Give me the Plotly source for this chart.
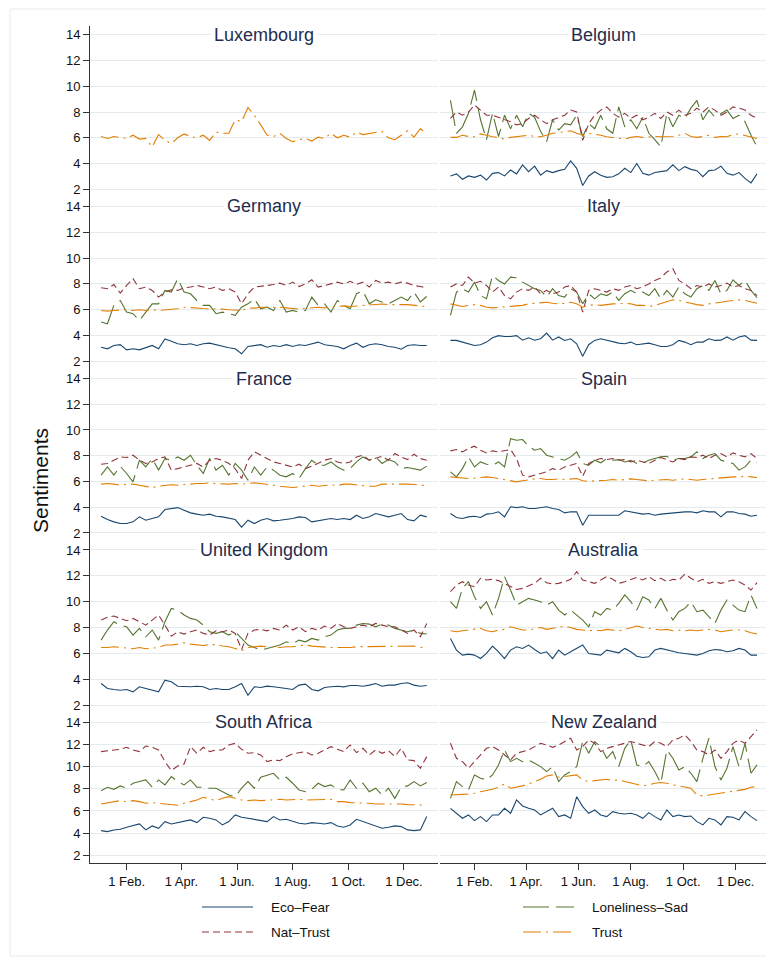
import pandas as pd
import plotly.graph_objects as go

# the page body has an 8px margin, so the figure is drawn 8px in from the window corner
OFF = 8
W, H = 774 - OFF, 959 - OFF

# one reading per week, first week starting 4 Jan 2020
week_start = '2020-01-04'
n_weeks = 52

countries = ['Luxembourg', 'Belgium', 'Germany', 'Italy', 'France', 'Spain',
             'United Kingdom', 'Australia', 'South Africa', 'New Zealand']
series_names = ['Eco–Fear', 'Loneliness–Sad', 'Nat–Trust', 'Trust']
month_ticks = ['2020-02-01', '2020-04-01', '2020-06-01', '2020-08-01', '2020-10-01', '2020-12-01']
month_labels = ['1 Feb.', '1 Apr.', '1 Jun.', '1 Aug.', '1 Oct.', '1 Dec.']
y_ticks = [2, 4, 6, 8, 10, 12, 14]

lux_trust = [6.1, 5.95, 6.1, 6.05, 5.95, 6.2, 5.9, 5.95, 5.3, 6.25,
             5.8, 5.55, 6.0, 6.3, 6.1, 6.0, 6.2, 5.8, 6.45, 6.35,
             6.35, 7.4, 7.25, 8.35, 7.75, 7.0, 6.2, 6.1, 6.35, 5.95,
             5.7, 5.85, 5.95, 5.75, 6.05, 5.95, 6.35, 6.0, 6.2, 6.05,
             6.45, 6.25, 6.35, 6.4, 6.5, 6.0, 5.85, 6.2, 6.55, 6.05,
             6.7, 6.3]

bel_eco = [3.04, 3.2, 2.78, 3.04, 2.93, 3.1, 2.72, 3.24, 3.3, 3.04,
           3.5, 3.2, 3.9, 3.37, 3.8, 3.1, 3.45, 3.3, 3.45, 3.55,
           4.2, 3.63, 2.3, 3.04, 3.37, 3.1, 2.93, 2.98, 3.2, 3.63,
           3.3, 4.0, 3.24, 3.1, 3.3, 3.37, 3.45, 3.9, 3.45, 3.76,
           3.55, 3.45, 2.98, 3.45, 3.5, 3.8, 3.24, 3.1, 3.3, 2.85,
           2.5, 3.2]
bel_lonely = [8.9, 6.35, 6.85, 7.9, 9.7, 7.4, 5.85, 7.9, 6.1, 7.75,
              6.7, 7.75, 6.85, 7.9, 7.6, 6.5, 5.7, 7.4, 6.6, 7.1,
              7.0, 7.75, 6.1, 7.1, 6.7, 7.75, 6.7, 6.35, 8.4, 6.85,
              7.4, 6.7, 7.6, 6.35, 5.85, 5.3, 7.9, 6.85, 7.75, 7.5,
              8.3, 8.9, 7.4, 8.15, 7.6, 7.9, 8.15, 7.5, 7.75, 7.25,
              6.2, 5.3]
bel_nat = [7.5, 8.0, 7.75, 8.0, 8.55, 8.15, 7.75, 7.75, 7.6, 7.4,
           7.25, 7.0, 7.1, 7.5, 7.75, 7.4, 7.1, 7.4, 7.6, 7.75,
           8.15, 8.0, 5.8, 7.1, 7.75, 8.15, 8.4, 7.9, 7.6, 7.9,
           7.5, 7.75, 7.4, 7.6, 7.9, 7.5, 8.0, 7.75, 8.15, 7.75,
           7.9, 8.3, 8.0, 8.4, 8.15, 7.75, 8.0, 8.4, 8.3, 8.15,
           7.75, 7.5]
bel_trust = [6.03, 6.03, 6.2, 6.1, 6.08, 6.3, 6.2, 6.08, 6.03, 5.9,
             6.03, 6.08, 6.1, 6.2, 6.1, 6.08, 6.2, 6.35, 6.4, 6.45,
             6.55, 6.35, 6.2, 6.35, 6.3, 6.2, 6.08, 6.03, 5.95, 5.9,
             6.03, 6.1, 6.03, 6.08, 6.1, 6.08, 6.08, 6.1, 6.2, 6.35,
             6.1, 6.03, 6.1, 6.2, 6.03, 6.1, 6.08, 6.25, 6.3, 6.2,
             6.08, 5.95]

ger_eco = [3.1, 2.98, 3.24, 3.3, 2.9, 2.98, 2.9, 3.06, 3.24, 2.98,
           3.75, 3.57, 3.37, 3.3, 3.37, 3.24, 3.37, 3.42, 3.3, 3.16,
           3.06, 2.98, 2.6, 3.16, 3.24, 3.3, 3.1, 3.24, 3.16, 3.3,
           3.16, 3.3, 3.24, 3.37, 3.5, 3.3, 3.24, 3.16, 2.98, 3.24,
           3.42, 3.1, 3.3, 3.37, 3.3, 3.16, 3.1, 2.95, 3.24, 3.3,
           3.24, 3.24]
ger_lonely = [5.05, 4.92, 6.34, 6.72, 5.82, 5.7, 5.17, 5.82, 6.46, 6.46,
              7.5, 7.37, 8.4, 7.37, 7.24, 6.72, 6.34, 6.34, 5.7, 5.82,
              5.7, 5.57, 6.2, 6.46, 6.85, 6.08, 6.2, 5.95, 6.72, 5.82,
              5.95, 5.82, 5.95, 6.98, 6.34, 6.46, 5.82, 6.72, 6.34, 6.08,
              7.24, 7.45, 6.46, 6.77, 6.6, 6.46, 6.72, 6.98, 6.72, 7.37,
              6.6, 7.03]
ger_nat = [7.7, 7.63, 7.96, 7.29, 7.88, 8.4, 7.63, 7.76, 7.5, 6.98,
           7.37, 7.55, 7.5, 7.7, 7.76, 7.88, 7.76, 7.63, 7.76, 7.5,
           7.63, 7.37, 6.47, 7.24, 7.76, 7.8, 7.88, 7.96, 8.06, 7.88,
           8.14, 7.8, 8.0, 8.32, 7.76, 7.88, 8.0, 8.14, 8.0, 8.2,
           7.96, 8.14, 7.76, 8.27, 8.06, 8.14, 8.0, 8.14, 8.06, 7.88,
           7.8, 7.7]
ger_trust = [5.95, 5.9, 5.95, 6.0, 6.0, 5.95, 6.0, 5.95, 6.0, 5.95,
             6.0, 6.05, 6.08, 6.2, 6.15, 6.15, 6.1, 6.08, 6.08, 6.05,
             6.0, 6.0, 5.95, 6.15, 6.13, 6.2, 6.2, 6.25, 6.2, 6.15,
             6.08, 6.05, 6.1, 6.15, 6.2, 6.15, 6.2, 6.25, 6.3, 6.25,
             6.3, 6.32, 6.35, 6.4, 6.45, 6.4, 6.38, 6.4, 6.4, 6.35,
             6.25, 6.25]

ita_eco = [3.63, 3.63, 3.5, 3.37, 3.24, 3.3, 3.5, 3.83, 4.0, 3.93,
           3.93, 4.0, 3.65, 3.83, 3.65, 3.76, 4.2, 3.65, 3.9, 3.63,
           3.76, 3.37, 2.4, 3.3, 3.63, 3.76, 3.65, 3.5, 3.42, 3.37,
           3.5, 3.3, 3.37, 3.42, 3.3, 3.16, 3.16, 3.3, 3.63, 3.5,
           3.3, 3.5, 3.5, 3.76, 3.63, 3.65, 3.9, 3.65, 3.9, 4.0,
           3.65, 3.63]
ita_lonely = [5.56, 7.37, 7.63, 7.37, 8.14, 7.1, 6.85, 8.66, 8.27, 8.0,
              8.53, 8.47, 8.14, 7.88, 7.63, 7.5, 6.98, 7.63, 7.1, 6.98,
              7.63, 7.37, 6.46, 7.24, 6.85, 7.24, 7.1, 7.37, 6.72, 7.24,
              7.5, 7.24, 7.37, 7.1, 7.63, 6.85, 7.5, 6.98, 7.76, 7.24,
              6.98, 7.63, 7.88, 7.5, 8.27, 7.24, 7.5, 8.32, 7.88, 8.27,
              7.5, 6.93]
ita_nat = [7.76, 8.0, 7.88, 8.53, 8.06, 8.2, 7.88, 7.37, 7.76, 7.1,
           6.85, 7.37, 7.63, 7.5, 7.76, 7.24, 7.5, 7.24, 7.37, 7.76,
           7.88, 7.37, 5.82, 7.5, 7.63, 7.5, 7.37, 7.63, 7.5, 7.76,
           7.88, 7.63, 7.76, 8.0, 8.27, 8.47, 8.92, 9.18, 8.27, 8.0,
           7.63, 7.88, 7.76, 8.0, 7.76, 7.88, 8.06, 7.76, 7.88, 7.63,
           7.5, 7.1]
ita_trust = [6.46, 6.34, 6.26, 6.34, 6.4, 6.34, 6.2, 6.15, 6.2, 6.26,
             6.26, 6.3, 6.34, 6.46, 6.5, 6.58, 6.58, 6.5, 6.46, 6.5,
             6.58, 6.46, 6.2, 6.34, 6.4, 6.34, 6.4, 6.46, 6.46, 6.5,
             6.46, 6.34, 6.34, 6.26, 6.34, 6.5, 6.66, 6.77, 6.72, 6.58,
             6.5, 6.4, 6.34, 6.46, 6.5, 6.58, 6.66, 6.72, 6.77, 6.72,
             6.58, 6.5]

fra_eco = [3.3, 3.04, 2.86, 2.73, 2.73, 2.86, 3.25, 2.99, 3.12, 3.25,
           3.82, 3.9, 3.97, 3.77, 3.56, 3.46, 3.38, 3.46, 3.3, 3.25,
           3.12, 3.04, 2.45, 2.99, 2.73, 2.99, 3.12, 2.94, 2.99, 3.04,
           3.12, 3.25, 3.2, 2.86, 2.94, 3.04, 3.12, 3.04, 3.12, 3.04,
           3.38, 3.12, 3.25, 3.51, 3.38, 3.25, 3.38, 3.51, 3.04, 2.94,
           3.38, 3.25]
fra_lonely = [6.49, 7.13, 6.49, 7.19, 6.62, 5.97, 7.65, 7.13, 7.78, 6.88,
              7.78, 7.65, 7.91, 7.65, 8.04, 7.26, 6.62, 7.78, 6.88, 7.26,
              6.49, 7.4, 6.88, 6.1, 7.13, 6.49, 7.13, 6.88, 6.49, 6.36,
              6.62, 6.23, 7.0, 7.65, 7.26, 7.26, 7.52, 7.13, 6.88, 7.0,
              7.52, 7.91, 7.65, 7.91, 7.4, 7.7, 7.52, 7.0, 7.08, 7.0,
              6.88, 7.19]
fra_nat = [7.34, 7.4, 7.65, 7.91, 7.86, 8.04, 7.65, 7.4, 7.52, 7.78,
           7.91, 6.88, 7.0, 7.13, 7.26, 7.4, 7.13, 7.65, 7.78, 7.65,
           7.4, 7.0, 6.23, 7.65, 8.3, 8.04, 7.78, 7.52, 7.4, 7.26,
           7.13, 7.34, 7.0, 7.19, 7.4, 7.65, 7.78, 7.52, 7.4, 7.52,
           7.91, 8.04, 7.65, 7.78, 7.96, 7.65, 8.17, 7.91, 7.7, 8.12,
           7.78, 7.65]
fra_trust = [5.79, 5.84, 5.79, 5.71, 5.79, 5.79, 5.71, 5.63, 5.53, 5.63,
             5.68, 5.74, 5.71, 5.76, 5.79, 5.84, 5.84, 5.89, 5.84, 5.79,
             5.79, 5.84, 5.79, 5.84, 5.89, 5.84, 5.79, 5.71, 5.63, 5.58,
             5.53, 5.58, 5.63, 5.71, 5.63, 5.68, 5.74, 5.68, 5.79, 5.79,
             5.71, 5.68, 5.63, 5.63, 5.79, 5.79, 5.84, 5.79, 5.79, 5.76,
             5.74, 5.68]

spa_eco = [3.51, 3.2, 3.12, 3.25, 3.3, 3.2, 3.46, 3.51, 3.64, 3.25,
           4.03, 3.97, 4.03, 3.9, 3.9, 3.97, 4.03, 3.9, 3.82, 3.56,
           3.64, 3.64, 2.6, 3.38, 3.38, 3.38, 3.38, 3.38, 3.38, 3.72,
           3.64, 3.51, 3.46, 3.51, 3.38, 3.46, 3.51, 3.51, 3.56, 3.64,
           3.64, 3.56, 3.72, 3.64, 3.64, 3.25, 3.64, 3.64, 3.51, 3.46,
           3.3, 3.38]
spa_lonely = [6.75, 6.36, 7.0, 7.91, 7.13, 7.52, 7.34, 7.26, 7.52, 7.13,
              9.33, 9.2, 9.26, 8.74, 8.43, 8.56, 8.04, 7.91, 7.78, 7.65,
              7.91, 8.3, 7.4, 7.26, 7.65, 7.45, 7.78, 7.65, 7.7, 7.52,
              7.65, 7.4, 7.45, 7.65, 7.78, 7.91, 7.96, 7.65, 7.78, 7.78,
              7.91, 8.3, 7.78, 8.04, 8.17, 7.65, 7.52, 7.4, 6.88, 7.13,
              7.65, 7.45]
spa_nat = [8.38, 8.48, 8.3, 8.56, 8.74, 8.43, 8.22, 8.38, 8.3, 8.38,
           8.48, 7.78, 6.49, 6.36, 6.49, 6.62, 6.75, 7.0, 6.88, 7.13,
           7.26, 7.4, 6.4, 7.4, 7.65, 7.78, 7.7, 7.78, 7.65, 7.7,
           7.52, 7.65, 7.52, 7.4, 7.65, 7.86, 7.7, 7.52, 7.78, 7.7,
           7.91, 7.86, 8.04, 7.78, 8.04, 8.17, 7.91, 8.22, 8.04, 7.91,
           8.17, 7.78]
spa_trust = [6.36, 6.31, 6.23, 6.23, 6.26, 6.31, 6.36, 6.31, 6.23, 6.1,
             6.05, 5.97, 6.05, 6.15, 6.2, 6.23, 6.15, 6.15, 6.2, 6.15,
             6.2, 6.23, 6.05, 6.0, 6.05, 6.05, 6.1, 6.15, 6.1, 6.15,
             6.2, 6.15, 6.1, 6.05, 6.1, 6.15, 6.15, 6.1, 6.15, 6.2,
             6.15, 6.1, 6.15, 6.2, 6.23, 6.31, 6.31, 6.36, 6.36, 6.41,
             6.36, 6.31]

uk_eco = [3.68, 3.29, 3.21, 3.16, 3.21, 3.03, 3.42, 3.29, 3.16, 3.03,
          3.94, 3.81, 3.47, 3.42, 3.42, 3.47, 3.42, 3.21, 3.29, 3.21,
          3.21, 3.42, 3.68, 2.77, 3.42, 3.37, 3.47, 3.42, 3.37, 3.29,
          3.21, 3.55, 3.63, 3.21, 3.11, 3.37, 3.42, 3.47, 3.42, 3.52,
          3.52, 3.47, 3.55, 3.68, 3.47, 3.55, 3.55, 3.68, 3.73, 3.55,
          3.47, 3.52]
uk_lonely = [7.03, 7.81, 8.45, 8.19, 8.06, 7.42, 7.94, 7.29, 7.81, 7.03,
             8.45, 9.48, 9.35, 8.97, 8.71, 8.58, 8.19, 7.68, 7.55, 7.68,
             7.42, 7.68, 7.16, 6.65, 6.46, 6.26, 6.39, 6.52, 6.65, 6.9,
             6.77, 7.03, 6.9, 7.16, 7.03, 7.29, 7.42, 7.81, 7.94, 7.94,
             8.19, 8.32, 8.27, 8.06, 8.27, 8.19, 7.94, 7.81, 7.68, 7.81,
             7.55, 7.5]
uk_nat = [8.58, 8.79, 8.89, 8.71, 8.53, 8.71, 8.45, 8.19, 8.58, 8.97,
          8.19, 7.34, 7.68, 7.5, 7.68, 7.81, 7.55, 7.42, 7.75, 7.68,
          7.81, 7.55, 6.3, 7.55, 7.81, 7.86, 7.75, 7.94, 7.81, 8.19,
          7.81, 8.06, 7.68, 7.94, 7.81, 8.12, 7.94, 8.32, 8.06, 7.94,
          8.06, 8.19, 8.06, 8.32, 8.19, 8.06, 8.06, 7.81, 7.55, 7.81,
          7.29, 8.32]
uk_trust = [6.46, 6.46, 6.52, 6.46, 6.39, 6.36, 6.46, 6.36, 6.41, 6.46,
            6.65, 6.65, 6.72, 6.83, 6.72, 6.65, 6.62, 6.68, 6.68, 6.57,
            6.52, 6.39, 6.21, 6.46, 6.52, 6.57, 6.52, 6.46, 6.46, 6.52,
            6.52, 6.57, 6.65, 6.57, 6.52, 6.52, 6.46, 6.46, 6.46, 6.46,
            6.52, 6.52, 6.52, 6.57, 6.57, 6.52, 6.52, 6.52, 6.57, 6.57,
            6.46, 6.52]

aus_eco = [7.16, 6.26, 5.87, 5.95, 5.87, 5.61, 6.0, 6.57, 6.13, 5.61,
           6.26, 6.52, 6.39, 6.65, 6.31, 6.0, 6.13, 5.61, 6.26, 5.87,
           6.13, 6.39, 6.65, 6.0, 5.95, 5.87, 6.26, 6.13, 6.05, 6.39,
           6.13, 5.79, 5.69, 5.74, 6.26, 6.39, 6.26, 6.13, 6.05, 6.0,
           5.95, 5.87, 6.0, 6.21, 6.31, 6.26, 6.13, 6.21, 6.39, 6.26,
           5.87, 5.87]
aus_lonely = [10.0, 9.48, 11.03, 11.55, 10.39, 9.48, 10.0, 8.97, 10.26, 11.94,
              10.9, 9.74, 10.0, 10.26, 10.13, 10.0, 9.74, 10.0, 9.35, 8.97,
              9.35, 8.97, 8.58, 8.06, 9.23, 8.97, 9.48, 9.35, 9.87, 10.52,
              10.0, 9.35, 10.39, 10.13, 9.48, 10.26, 9.35, 8.58, 9.23, 9.48,
              10.0, 9.23, 9.35, 8.84, 8.32, 9.35, 10.13, 9.74, 9.35, 9.23,
              10.52, 9.48]
aus_nat = [10.77, 11.29, 11.55, 11.29, 11.16, 11.81, 11.68, 11.73, 11.63, 11.42,
           11.16, 10.95, 11.03, 11.21, 11.42, 11.81, 11.47, 11.37, 11.42, 11.55,
           11.73, 12.32, 11.68, 11.55, 11.42, 11.68, 11.94, 11.73, 11.42, 11.55,
           11.73, 11.88, 11.68, 11.94, 11.63, 11.81, 11.55, 11.73, 11.68, 12.14,
           11.81, 11.55, 11.73, 11.42, 11.55, 11.42, 11.55, 11.68, 11.55, 11.29,
           10.9, 11.47]
aus_trust = [7.75, 7.68, 7.75, 7.81, 7.86, 7.94, 7.75, 7.68, 7.81, 7.86,
             8.06, 7.94, 7.81, 7.81, 7.94, 8.01, 7.86, 7.94, 8.01, 8.12,
             8.01, 7.86, 7.81, 7.75, 7.81, 7.75, 7.86, 7.81, 7.75, 7.86,
             8.01, 8.12, 8.01, 7.94, 7.86, 7.81, 7.86, 7.75, 7.81, 7.75,
             7.81, 7.75, 7.81, 7.86, 7.81, 7.68, 7.75, 7.81, 7.81, 7.75,
             7.6, 7.5]

rsa_eco = [4.23, 4.14, 4.29, 4.35, 4.53, 4.65, 4.83, 4.29, 4.65, 4.44,
           5.04, 4.83, 4.95, 5.13, 5.19, 4.95, 5.43, 5.34, 5.19, 4.74,
           5.04, 5.64, 5.43, 5.34, 5.25, 5.13, 5.04, 5.49, 5.19, 5.25,
           5.04, 4.89, 4.83, 4.95, 4.89, 4.83, 4.95, 4.65, 4.53, 4.74,
           5.25, 5.04, 4.83, 4.59, 4.44, 4.53, 4.65, 4.59, 4.29, 4.23,
           4.29, 5.5]
rsa_lonely = [7.83, 8.14, 7.95, 8.26, 8.05, 8.5, 8.65, 8.8, 8.14, 8.8,
              8.35, 9.1, 8.65, 8.35, 8.8, 8.14, 8.14, 8.05, 8.05, 7.74,
              7.44, 7.29, 8.05, 8.65, 8.05, 9.04, 9.25, 9.4, 8.8, 9.04,
              8.5, 7.89, 7.74, 7.95, 8.5, 8.2, 8.35, 7.95, 7.89, 8.8,
              8.05, 8.5, 7.74, 8.05, 7.44, 8.05, 7.14, 8.14, 8.26, 8.65,
              8.26, 8.56]
rsa_nat = [11.35, 11.44, 11.5, 11.56, 11.74, 11.5, 11.35, 11.86, 11.74, 11.5,
           10.45, 9.64, 10.06, 10.24, 11.8, 11.2, 11.74, 11.35, 11.5, 11.5,
           11.95, 12.1, 11.56, 11.2, 11.26, 11.05, 10.45, 10.6, 10.54, 10.9,
           11.14, 11.26, 11.35, 11.05, 11.2, 11.5, 11.8, 11.56, 11.35, 11.95,
           11.26, 11.65, 11.05, 11.5, 11.2, 11.44, 10.9, 11.65, 10.6, 10.54,
           9.85, 10.9]
rsa_trust = [6.63, 6.75, 6.84, 6.93, 6.84, 6.93, 6.84, 6.69, 6.75, 6.69,
             6.63, 6.54, 6.51, 6.69, 6.84, 6.99, 7.23, 7.05, 6.93, 7.14,
             7.29, 7.14, 6.99, 6.93, 6.99, 6.93, 6.99, 7.05, 7.05, 6.99,
             7.05, 7.05, 6.99, 6.99, 7.05, 7.05, 7.05, 6.84, 6.84, 6.75,
             6.75, 6.69, 6.69, 6.63, 6.63, 6.69, 6.69, 6.63, 6.57, 6.54,
             6.54, 6.57]

nzl_eco = [6.24, 5.79, 5.34, 5.64, 5.13, 5.49, 5.04, 5.64, 5.64, 6.24,
           5.79, 6.99, 6.45, 6.24, 6.09, 5.64, 5.94, 6.24, 5.49, 5.64,
           5.34, 7.29, 6.39, 5.79, 6.09, 5.64, 5.49, 5.94, 5.79, 5.73,
           5.79, 5.64, 5.34, 5.85, 5.49, 5.19, 6.09, 5.49, 5.64, 5.49,
           5.55, 5.04, 4.74, 5.34, 5.19, 4.74, 5.49, 5.43, 5.19, 5.94,
           5.49, 5.13]
nzl_lonely = [7.14, 8.65, 8.2, 7.89, 9.25, 8.95, 8.8, 9.25, 10.15, 11.5,
              10.45, 10.75, 10.45, 10.6, 10.3, 10.0, 9.55, 10.0, 8.65, 9.25,
              9.55, 10.0, 12.26, 11.2, 12.26, 11.8, 10.75, 11.35, 10.0, 11.65,
              12.41, 10.15, 10.0, 10.45, 9.55, 8.5, 11.5, 10.75, 9.7, 10.0,
              9.4, 8.65, 10.75, 12.56, 10.0, 8.8, 9.85, 11.8, 10.0, 12.1,
              9.4, 10.15]
nzl_nat = [12.1, 10.75, 10.45, 9.85, 10.45, 11.05, 11.65, 11.8, 11.5, 11.05,
           10.6, 11.2, 11.35, 11.5, 11.8, 12.1, 11.95, 11.74, 11.95, 12.26,
           12.56, 11.5, 11.8, 12.4, 12.1, 11.35, 11.65, 11.8, 11.95, 12.1,
           12.26, 12.1, 11.95, 11.8, 12.26, 12.1, 11.8, 12.4, 12.56, 12.86,
           12.26, 11.5, 11.35, 11.05, 11.5, 10.75, 11.35, 12.1, 12.4, 12.1,
           12.71, 13.31]
nzl_trust = [7.44, 7.44, 7.5, 7.53, 7.59, 7.74, 7.83, 7.95, 8.14, 8.44,
             8.05, 8.14, 8.26, 8.44, 8.65, 8.86, 9.16, 9.25, 9.04, 9.1,
             9.16, 9.25, 8.8, 8.65, 8.74, 8.8, 8.86, 8.74, 8.8, 8.65,
             8.5, 8.35, 8.26, 8.35, 8.5, 8.56, 8.5, 8.35, 8.26, 8.14,
             8.05, 7.44, 7.35, 7.44, 7.53, 7.59, 7.65, 7.74, 7.83, 7.95,
             8.14, 8.2]

# series per panel, same order as series_names (None = not available)
panel_series = [
    [None, None, None, lux_trust],
    [bel_eco, bel_lonely, bel_nat, bel_trust],
    [ger_eco, ger_lonely, ger_nat, ger_trust],
    [ita_eco, ita_lonely, ita_nat, ita_trust],
    [fra_eco, fra_lonely, fra_nat, fra_trust],
    [spa_eco, spa_lonely, spa_nat, spa_trust],
    [uk_eco, uk_lonely, uk_nat, uk_trust],
    [aus_eco, aus_lonely, aus_nat, aus_trust],
    [rsa_eco, rsa_lonely, rsa_nat, rsa_trust],
    [nzl_eco, nzl_lonely, nzl_nat, nzl_trust],
]

# stata s2color style
colors = ['#1a476f', '#55752f', '#90353b', '#e37e00']
dashes = ['solid', '26px,7px', '7px,4px', '18px,5px,2px,5px']
grid_col = '#e3ebee'
axis_col = '#333333'
title_col = '#1f2d4d'
FONT = 'Liberation Sans, Arial, sans-serif'

# panel geometry in window pixels
col_px = [(90, 438), (440, 767.6)]
row_px = [(26.1, 197.7), (197.7, 369.9), (369.9, 541.3), (541.3, 713.6), (713.6, 863.3)]
y_ranges = [[1.35, 14.67]] * 4 + [[1.28, 14.78]]
x_range = ['2019-12-22 20:00', '2021-01-07 08:00']

def fx(px):
    return (px - OFF) / W

def fy(py):
    return 1 - (py - OFF) / H

dates = pd.date_range(week_start, periods=n_weeks, freq='7D')

fig = go.Figure()
layout = {}
annotations = []

for i, country in enumerate(countries):
    row, col = i // 2, i % 2
    n = '' if i == 0 else str(i + 1)
    bottom = row == 4
    left = col == 0

    for vals, name, c, d in zip(panel_series[i], series_names, colors, dashes):
        if vals is None:
            continue
        fig.add_trace(go.Scatter(
            x=dates, y=vals, mode='lines', name=name, showlegend=False,
            line=dict(color=c, width=1.1, dash=d),
            xaxis='x' + n, yaxis='y' + n,
        ))

    layout['xaxis' + n] = dict(
        domain=[fx(col_px[col][0]), fx(col_px[col][1])],
        range=x_range, type='date', anchor='y' + n,
        showgrid=False, zeroline=False,
        showline=bottom, linecolor=axis_col, linewidth=1,
        ticks='outside' if bottom else '', ticklen=6, tickcolor=axis_col,
        tickvals=month_ticks, ticktext=month_labels, showticklabels=bottom,
        tickfont=dict(size=13, color='#111111'),
        fixedrange=True,
    )
    layout['yaxis' + n] = dict(
        domain=[fy(row_px[row][1]), fy(row_px[row][0])],
        range=y_ranges[row], anchor='x' + n,
        tickvals=y_ticks, showgrid=True, gridcolor=grid_col, gridwidth=1,
        zeroline=False,
        showline=left, linecolor=axis_col, linewidth=1,
        ticks='outside' if left else '', ticklen=6, tickcolor=axis_col,
        showticklabels=left, tickfont=dict(size=13, color='#111111'),
        fixedrange=True,
    )
    # panel title sits on the top gridline, white box breaks the line
    annotations.append(dict(
        text=country, xref='x' + n + ' domain', yref='y' + n,
        x=0.5, y=14, showarrow=False, bgcolor='white', borderpad=3,
        font=dict(size=18, color=title_col, family=FONT),
    ))

annotations.append(dict(
    text='Sentiments', xref='paper', yref='paper', x=fx(40), y=fy(481),
    xanchor='center', yanchor='middle',
    textangle=-90, showarrow=False, font=dict(size=21, color='#111111', family=FONT),
))

# legend, two columns like stata
shapes = [dict(type='rect', xref='paper', yref='paper', x0=fx(10), y0=fy(956),
               x1=fx(776), y1=fy(9), line=dict(color='#e6edf0', width=1))]
legend_pos = [(202, 907), (523, 907), (202, 932), (523, 932)]
for (lx, ly), name, c, d in zip(legend_pos, series_names, colors, dashes):
    shapes.append(dict(type='line', xref='paper', yref='paper',
                       x0=fx(lx), x1=fx(lx + 51), y0=fy(ly), y1=fy(ly),
                       line=dict(color=c, width=1.1, dash=d)))
    annotations.append(dict(text=name, xref='paper', yref='paper', x=fx(lx + 67), y=fy(ly),
                            xanchor='left', yanchor='middle', showarrow=False,
                            font=dict(size=13.5, color='#111111', family=FONT)))

fig.update_layout(
    **layout,
    annotations=annotations,
    shapes=shapes,
    width=W, height=H,
    margin=dict(l=0, r=0, t=0, b=0),
    template='none',
    paper_bgcolor='white', plot_bgcolor='white',
    showlegend=False,
    font=dict(family=FONT, color='#111111'),
)

fig.write_html('out.html')
